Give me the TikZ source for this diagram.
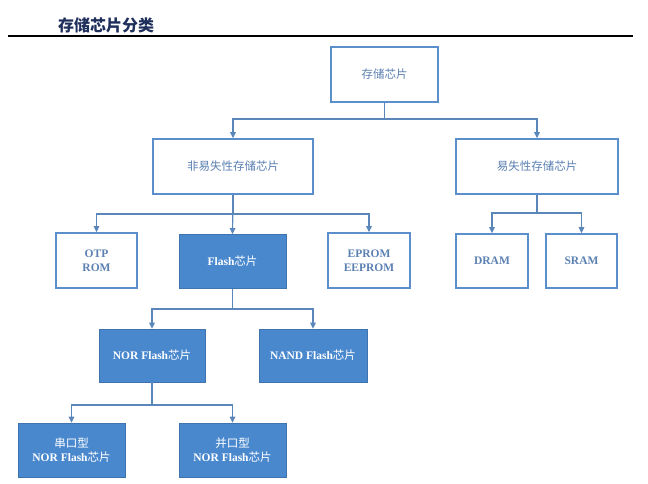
\documentclass[tikz,border=0pt]{standalone}
\usepackage{fontspec}
\setmainfont{Liberation Serif}
\newfontfamily\cjk{Noto Sans CJK SC}
\newfontfamily\cjkb{Noto Sans CJK SC Black}
\newcommand\zh[1]{{\cjk\mdseries #1}}
\usetikzlibrary{arrows.meta}
\definecolor{bord}{HTML}{5B8FCB}
\definecolor{fillb}{HTML}{4A88CE}
\definecolor{txtb}{HTML}{5B80B2}
\definecolor{conn}{HTML}{5A86BA}
\definecolor{navy}{HTML}{1F2F5C}
\begin{document}
\begin{tikzpicture}[x=1pt,y=-1pt,
  obox/.style={draw=bord,line width=1.7pt,fill=white,rectangle,inner sep=0pt,align=center,text=txtb,font=\fontsize{11.5}{14}\selectfont\bfseries},
  fbox/.style={draw=fillb!85!black,line width=0.6pt,fill=fillb,rectangle,inner sep=0pt,align=center,text=white,font=\fontsize{11.5}{14}\selectfont\bfseries},
  arr/.style={draw=conn,line width=1.2pt,-{Triangle[length=6pt,width=5.5pt]}}]
\useasboundingbox (0,0) rectangle (648,484);
\node[text=navy,font=\cjkb\fontsize{16}{19}\selectfont] (title) at (106,25) {存储芯片分类};
\draw[line width=2pt] (8,36) -- (633,36);
\node[obox,minimum width=107pt,minimum height=55pt] (top) at (384.5,74.5) {\zh{存储芯片}};
\node[obox,minimum width=160pt,minimum height=55pt] (nv) at (233,166.5) {\zh{非易失性存储芯片}};
\node[obox,minimum width=162pt,minimum height=55pt] (v) at (537,166.5) {\zh{易失性存储芯片}};
\node[obox,minimum width=81pt,minimum height=55pt] (otp) at (96.5,260.5) {OTP\\ROM};
\node[fbox,minimum width=107pt,minimum height=54pt] (flash) at (232.5,261.5) {Flash\zh{芯片}};
\node[obox,minimum width=82pt,minimum height=55pt] (eprom) at (369,260.5) {EPROM\\EEPROM};
\node[obox,minimum width=72pt,minimum height=54pt] (dram) at (492,261) {DRAM};
\node[obox,minimum width=71pt,minimum height=54pt] (sram) at (581.5,261) {SRAM};
\node[fbox,minimum width=106pt,minimum height=53pt] (nor) at (152,355.5) {NOR Flash\zh{芯片}};
\node[fbox,minimum width=108pt,minimum height=53pt] (nand) at (313,355.5) {NAND Flash\zh{芯片}};
\node[fbox,minimum width=107pt,minimum height=54pt] (ser) at (71.5,450) {\zh{串口型}\\NOR Flash\zh{芯片}};
\node[fbox,minimum width=107pt,minimum height=54pt] (par) at (232.5,450) {\zh{并口型}\\NOR Flash\zh{芯片}};
\coordinate (b1) at (0,119);
\coordinate (b2) at (0,214);
\coordinate (b3) at (0,213);
\coordinate (b4) at (0,309);
\coordinate (b5) at (0,405);
\draw[arr] (top.south) -- (top.south |- b1) -| (nv.north);
\draw[arr] (top.south) -- (top.south |- b1) -| (v.north);
\draw[arr] (nv.south) -- (nv.south |- b2) -| (otp.north);
\draw[arr] (nv.south) -- (flash.north);
\draw[arr] (nv.south) -- (nv.south |- b2) -| (eprom.north);
\draw[arr] (v.south) -- (v.south |- b3) -| (dram.north);
\draw[arr] (v.south) -- (v.south |- b3) -| (sram.north);
\draw[arr] (flash.south) -- (flash.south |- b4) -| (nor.north);
\draw[arr] (flash.south) -- (flash.south |- b4) -| (nand.north);
\draw[arr] (nor.south) -- (nor.south |- b5) -| (ser.north);
\draw[arr] (nor.south) -- (nor.south |- b5) -| (par.north);
\end{tikzpicture}
\end{document}
